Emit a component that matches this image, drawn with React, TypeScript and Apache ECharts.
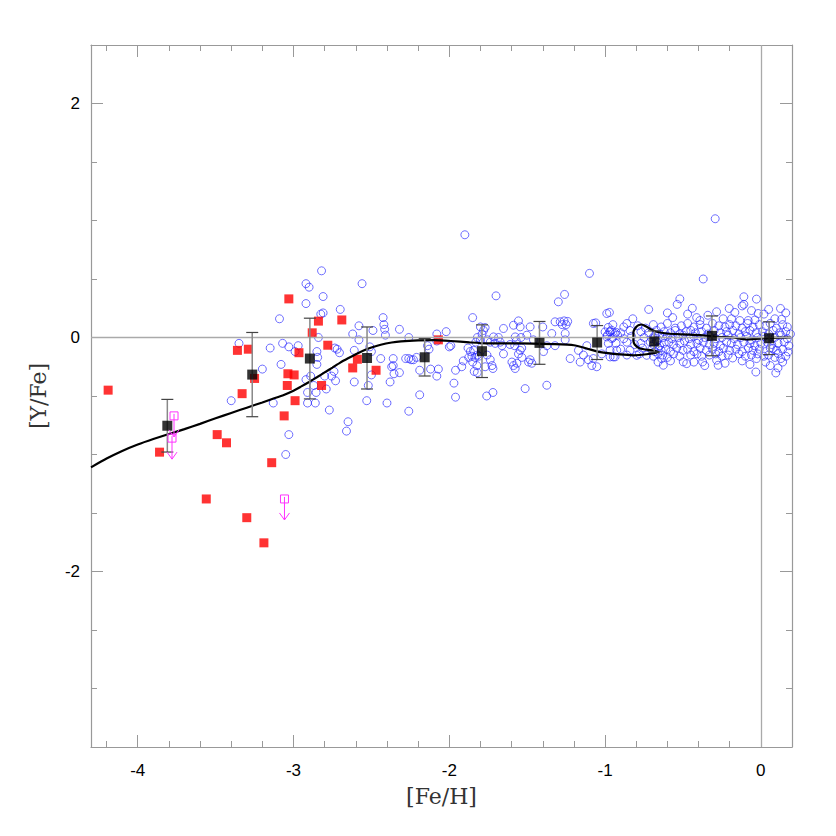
import React, { useEffect, useRef } from 'react';
import * as echarts from 'echarts';

const xMajorTicks = [-4, -3, -2, -1, 0];
const xMinorTicks = [-4.2, -3.8, -3.6, -3.4, -3.2, -2.8, -2.6, -2.4, -2.2, -1.8, -1.6, -1.4, -1.2, -0.8, -0.6, -0.4, -0.2];
const yMajorTicks = [-2, 0, 2];
const yMinorTicks = [-3.0, -2.5, -1.5, -1.0, -0.5, 0.5, 1.0, 1.5];

// mean values with error (x, y, err)
const meanPoints = [
  [-3.81, -0.754, 0.225], [-3.265, -0.317, 0.36], [-2.895, -0.18, 0.345], [-2.528, -0.175, 0.265],
  [-2.158, -0.169, 0.16], [-1.79, -0.117, 0.225], [-1.421, -0.046, 0.183], [-1.051, -0.043, 0.145],
  [-0.684, -0.034, 0.09], [-0.314, 0.014, 0.17], [0.053, -0.006, 0.14],
];

const redStars = [
  [-4.19, -0.45], [-3.86, -0.98], [-3.56, -1.38], [-3.49, -0.83], [-3.43, -0.90], [-3.36, -0.11],
  [-3.33, -0.48], [-3.30, -1.54], [-3.29, -0.10], [-3.25, -0.35], [-3.19, -1.755], [-3.14, -1.07],
  [-3.06, -0.67], [-3.04, -0.41], [-3.036, -0.31], [-3.03, 0.33], [-2.996, -0.32], [-2.99, -0.54],
  [-2.965, -0.13], [-2.88, 0.04], [-2.84, 0.14], [-2.82, -0.41], [-2.78, -0.066], [-2.69, 0.15],
  [-2.62, -0.26], [-2.59, -0.186], [-2.47, -0.28], [-2.07, -0.02],
];

const upperLimits = [[-3.767, -0.67], [-3.78, -0.86], [-3.058, -1.38]];

const blueMetalPoor = [
  [-3.40, -0.54], [-3.35, -0.05], [-3.20, -0.27], [-3.15, -0.09], [-3.13, -0.56], [-3.09, 0.16],
  [-3.08, -0.23], [-3.07, -0.05], [-3.05, -1.00], [-3.03, -0.08], [-3.03, -0.83], [-2.99, -0.12],
  [-2.97, -0.07], [-2.92, 0.29], [-2.92, 0.46], [-2.92, -0.36], [-2.91, -0.47], [-2.91, -0.56],
  [-2.90, 0.43], [-2.89, -0.33], [-2.87, -0.41], [-2.86, -0.56], [-2.855, -0.47], [-2.85, -0.12],
  [-2.85, -0.23], [-2.845, -0.17], [-2.84, 0.00], [-2.825, 0.20], [-2.81, 0.21], [-2.82, 0.57],
  [-2.81, 0.35], [-2.80, -0.33], [-2.79, -0.44], [-2.77, -0.62], [-2.755, -0.33], [-2.74, -0.29],
  [-2.735, -0.09], [-2.73, -0.37], [-2.72, -0.10], [-2.705, -0.13], [-2.70, 0.24], [-2.65, -0.72],
  [-2.66, -0.80], [-2.62, 0.03], [-2.61, -0.11], [-2.61, -0.38], [-2.58, 0.10], [-2.58, -0.02],
  [-2.56, 0.46], [-2.53, -0.54], [-2.52, -0.41], [-2.51, -0.08], [-2.50, -0.12], [-2.50, -0.32],
  [-2.49, 0.06], [-2.44, -0.18], [-2.425, 0.17], [-2.42, 0.11], [-2.415, 0.07], [-2.41, 0.02],
  [-2.40, -0.56], [-2.38, -0.38], [-2.37, -0.25], [-2.36, -0.18], [-2.36, -0.24], [-2.355, -0.31],
  [-2.32, 0.07], [-2.32, -0.30], [-2.28, -0.18], [-2.26, 0.00], [-2.26, -0.18], [-2.26, -0.63],
  [-2.245, -0.19], [-2.23, -0.19], [-2.21, -0.17], [-2.19, -0.28], [-2.19, -0.49], [-2.14, -0.07],
  [-2.13, -0.10], [-2.12, -0.27], [-2.08, 0.03], [-2.08, -0.33], [-2.08, -0.03], [-2.07, -0.27],
  [-2.02, 0.05], [-2.00, -0.08],
];

const blueMid = [
  [-1.99, -0.07], [-1.97, -0.39], [-1.96, -0.51], [-1.96, -0.28], [-1.91, -0.20], [-1.92, -0.25],
  [-1.90, 0.878], [-1.88, -0.09], [-1.865, -0.12], [-1.855, -0.16], [-1.875, -0.17], [-1.85, 0.17],
  [-1.85, -0.21], [-1.84, -0.29], [-1.835, -0.17], [-1.823, -0.24], [-1.83, -0.04], [-1.82, 0.00],
  [-1.82, -0.30], [-1.819, -0.15], [-1.844, -0.11], [-1.80, 0.09], [-1.80, -0.02], [-1.78, 0.06],
  [-1.79, 0.03], [-1.77, 0.085], [-1.81, -0.16], [-1.77, -0.25], [-1.758, -0.15], [-1.755, -0.02],
  [-1.76, -0.50], [-1.737, -0.19], [-1.737, -0.04], [-1.726, -0.24], [-1.72, -0.265], [-1.72, -0.47],
  [-1.716, 0.005], [-1.705, -0.05], [-1.70, 0.356], [-1.684, 0.00], [-1.673, -0.04], [-1.662, -0.07],
  [-1.652, 0.077], [-1.652, -0.14], [-1.61, -0.06], [-1.598, -0.21], [-1.588, 0.105], [-1.588, -0.24],
  [-1.577, -0.265], [-1.577, 0.005], [-1.58, -0.07], [-1.566, -0.22], [-1.57, -0.03], [-1.556, 0.142],
  [-1.556, -0.14], [-1.545, 0.091], [-1.545, -0.11], [-1.54, 0.00], [-1.535, -0.09], [-1.534, -0.17],
  [-1.513, -0.437], [-1.502, 0.02], [-1.491, -0.21], [-1.481, 0.091], [-1.481, -0.19], [-1.47, -0.22],
  [-1.46, -0.02], [-1.40, 0.09], [-1.395, -0.12], [-1.374, -0.07], [-1.374, -0.408], [-1.342, 0.034],
  [-1.321, 0.134], [-1.321, -0.07], [-1.30, 0.305], [-1.288, 0.134], [-1.26, 0.368], [-1.263, 0.142],
  [-1.256, 0.034], [-1.256, -0.02], [-1.24, 0.137], [-1.275, 0.11], [-1.25, 0.11], [-1.224, -0.18],
  [-1.171, -0.11], [-1.16, -0.21], [-1.139, -0.15], [-1.117, -0.07], [-1.107, -0.19], [-1.10, 0.548],
  [-1.085, -0.24], [-1.075, 0.12], [-1.075, -0.18], [-1.06, 0.125], [-1.053, -0.25], [-1.021, -0.14],
  [-1.00, 0.048],
];

const blueSolar = [
  [-0.989, 0.005], [-0.979, -0.051], [-0.968, -0.109], [-0.947, -0.166], [-0.925, -0.109], [-0.957, -0.009],
  [-0.936, 0.034], [-0.968, 0.048], [-0.989, 0.205], [-0.972, 0.214], [-0.98, 0.086], [-0.96, 0.063],
  [-0.985, 0.02], [-0.93, 0.045], [-0.92, 0.02], [-0.968, -0.166], [-0.936, -0.166], [-0.822, 0.16],
  [-0.797, -0.152], [-0.733, -0.152], [-0.72, 0.24], [-0.637, -0.18], [-0.626, -0.237], [-0.566, 0.17],
  [-0.537, 0.283], [-0.52, 0.33], [-0.498, -0.209], [-0.476, -0.223], [-0.412, 0.17], [-0.391, 0.145],
  [-0.374, -0.209], [-0.37, 0.50], [-0.293, 1.015], [-0.284, 0.22], [-0.284, -0.194], [-0.274, -0.237],
  [-0.242, 0.16], [-0.203, 0.248], [-0.188, 0.16], [-0.181, -0.175], [-0.167, 0.214], [-0.135, 0.145],
  [-0.109, 0.348], [-0.109, 0.283], [-0.081, 0.145], [-0.038, 0.15], [-0.028, 0.328], [-0.028, -0.18],
  [-0.032, -0.295], [-0.017, 0.205], [0.079, -0.094], [0.09, 0.16], [0.096, -0.303], [0.111, -0.137],
  [0.126, 0.248], [0.128, -0.18], [0.133, 0.155], [0.175, -0.123],
  [-0.95, 0.11], [-0.88, 0.09], [-0.86, 0.12], [-0.79, 0.10], [-0.74, 0.08], [-0.69, 0.11], [-0.64, 0.09],
  [-0.60, 0.12], [-0.55, 0.08], [-0.51, 0.10], [-0.47, 0.12], [-0.43, 0.09], [-0.39, 0.11], [-0.35, 0.08],
  [-0.31, 0.12], [-0.27, 0.10], [-0.23, 0.09], [-0.20, 0.11], [-0.16, 0.10], [-0.12, 0.08], [-0.085, 0.12],
  [-0.05, 0.09], [-0.01, 0.11], [0.03, 0.10], [0.06, 0.12], [0.10, 0.08], [0.14, 0.11], [0.17, 0.09],
  [-0.97, 0.05], [-0.90, 0.04], [-0.84, 0.06], [-0.77, 0.05], [-0.72, 0.04], [-0.67, 0.06], [-0.65, 0.03],
  [-0.62, 0.05], [-0.58, 0.04], [-0.55, 0.06], [-0.52, 0.03], [-0.48, 0.05], [-0.45, 0.06], [-0.42, 0.04],
  [-0.38, 0.05], [-0.34, 0.03], [-0.30, 0.06], [-0.26, 0.04], [-0.22, 0.05], [-0.18, 0.06], [-0.14, 0.03],
  [-0.10, 0.05], [-0.07, 0.06], [-0.03, 0.04], [0.01, 0.05], [0.05, 0.03], [0.08, 0.06], [0.12, 0.04],
  [0.16, 0.05], [0.19, 0.03],
  [-0.95, 0.00], [-0.88, -0.01], [-0.83, 0.01], [-0.75, 0.00], [-0.70, -0.01], [-0.68, 0.02], [-0.66, -0.02],
  [-0.63, 0.00], [-0.60, 0.01], [-0.57, -0.01], [-0.53, 0.00], [-0.50, 0.02], [-0.46, -0.01], [-0.43, 0.01],
  [-0.40, -0.02], [-0.36, 0.00], [-0.33, 0.01], [-0.29, -0.01], [-0.25, 0.00], [-0.21, 0.02], [-0.17, -0.01],
  [-0.13, 0.00], [-0.09, 0.01], [-0.06, -0.02], [-0.02, 0.00], [0.02, 0.01], [0.05, -0.01], [0.09, 0.00],
  [0.13, 0.02], [0.17, -0.01],
  [-0.93, -0.05], [-0.86, -0.04], [-0.81, -0.06], [-0.77, -0.05], [-0.71, -0.04], [-0.69, -0.06], [-0.67, -0.03],
  [-0.65, -0.07], [-0.62, -0.05], [-0.59, -0.04], [-0.56, -0.06], [-0.52, -0.05], [-0.49, -0.03], [-0.45, -0.06],
  [-0.41, -0.05], [-0.37, -0.04], [-0.33, -0.06], [-0.30, -0.05], [-0.26, -0.07], [-0.22, -0.04], [-0.19, -0.05],
  [-0.15, -0.06], [-0.11, -0.04], [-0.07, -0.05], [-0.04, -0.07], [0.00, -0.05], [0.04, -0.04], [0.07, -0.06],
  [0.11, -0.05], [0.15, -0.04], [0.18, -0.07],
  [-0.90, -0.10], [-0.84, -0.11], [-0.76, -0.09], [-0.70, -0.10], [-0.68, -0.12], [-0.66, -0.09], [-0.64, -0.11],
  [-0.61, -0.10], [-0.58, -0.12], [-0.54, -0.09], [-0.50, -0.11], [-0.47, -0.10], [-0.43, -0.12], [-0.39, -0.09],
  [-0.35, -0.11], [-0.31, -0.10], [-0.27, -0.12], [-0.24, -0.09], [-0.20, -0.11], [-0.16, -0.10], [-0.12, -0.12],
  [-0.08, -0.09], [-0.05, -0.11], [-0.01, -0.10], [0.03, -0.12], [0.06, -0.09], [0.10, -0.11], [0.14, -0.10],
  [-0.86, -0.15], [-0.78, -0.14], [-0.69, -0.16], [-0.66, -0.14], [-0.63, -0.15], [-0.60, -0.17], [-0.56, -0.14],
  [-0.52, -0.16], [-0.45, -0.15], [-0.41, -0.14], [-0.38, -0.16], [-0.33, -0.15], [-0.29, -0.14], [-0.25, -0.16],
  [-0.21, -0.15], [-0.14, -0.14], [-0.10, -0.16], [-0.06, -0.15], [-0.02, -0.14], [0.02, -0.16], [0.05, -0.15],
  [0.09, -0.17], [0.16, -0.16],
  [-0.60, 0.21], [-0.47, 0.20], [-0.34, 0.19], [-0.06, 0.23], [0.02, 0.20], [0.05, 0.24], [0.16, 0.21],
  [-0.44, 0.25], [-0.12, 0.27],
  [-0.66, -0.21], [-0.58, -0.20], [-0.43, -0.21], [-0.36, -0.24], [-0.23, -0.22], [-0.12, -0.20],
  [-0.07, -0.23], [0.03, -0.21], [0.06, -0.24], [0.14, -0.21], [0.11, -0.26],
];

const modelCurve = [
  [-4.3, -1.11], [-4.2, -1.035], [-4.1, -0.97], [-4.0, -0.915], [-3.9, -0.868], [-3.8, -0.825],
  [-3.7, -0.783], [-3.6, -0.738], [-3.5, -0.69], [-3.4, -0.645], [-3.3, -0.6], [-3.2, -0.555],
  [-3.137, -0.525], [-3.07, -0.495], [-3.0, -0.455], [-2.95, -0.418], [-2.9, -0.38], [-2.85, -0.34],
  [-2.8, -0.298], [-2.75, -0.257], [-2.7, -0.215], [-2.65, -0.178], [-2.6, -0.143], [-2.55, -0.112],
  [-2.5, -0.086], [-2.44, -0.062], [-2.37, -0.043], [-2.31, -0.033], [-2.2, -0.025], [-2.1, -0.023],
  [-1.99, -0.03], [-1.87, -0.042], [-1.76, -0.05], [-1.545, -0.05], [-1.33, -0.057], [-1.2, -0.066],
  [-1.117, -0.094], [-1.03, -0.125], [-0.904, -0.145], [-0.818, -0.152], [-0.733, -0.143], [-0.658, -0.123],
  [-0.70, -0.11], [-0.776, -0.094], [-0.81, -0.06], [-0.818, -0.023], [-0.818, 0.048], [-0.8, 0.09],
  [-0.786, 0.105], [-0.765, 0.111], [-0.733, 0.091], [-0.68, 0.054], [-0.605, 0.034], [-0.498, 0.026],
  [-0.39, 0.02], [-0.284, 0.005], [-0.178, 0.0], [-0.092, -0.017], [-0.006, -0.009], [0.079, -0.003],
  [0.19, 0.0],
];

const AXIS_GRAY = '#999';
const LABEL_FONT = 'Liberation Sans';
const NAME_FONT = 'DejaVu Serif';

function makeX(position: string, ticks: number[], len: number, withLabels: boolean, showLine: boolean) {
  return {
    type: 'value', min: -4.3, max: 0.2, position,
    name: withLabels ? '[Fe/H]' : '', nameLocation: 'middle', nameGap: 38,
    nameTextStyle: { fontFamily: NAME_FONT, fontSize: 22, color: '#333' },
    axisLine: { show: showLine, onZero: false, lineStyle: { color: AXIS_GRAY, width: 1.2 } },
    axisTick: { show: true, inside: true, length: len, customValues: ticks, lineStyle: { color: AXIS_GRAY, width: 1 } },
    axisLabel: withLabels
      ? { show: true, customValues: ticks, margin: 15, fontFamily: LABEL_FONT, fontSize: 17, color: '#000' }
      : { show: false },
    splitLine: { show: false },
  };
}

function makeY(position: string, ticks: number[], len: number, withLabels: boolean, showLine: boolean) {
  return {
    type: 'value', min: -3.5, max: 2.5, position,
    name: withLabels ? '[Y/Fe]' : '', nameLocation: 'middle', nameGap: 42,
    nameTextStyle: { fontFamily: NAME_FONT, fontSize: 22, color: '#333' },
    axisLine: { show: showLine, onZero: false, lineStyle: { color: AXIS_GRAY, width: 1.2 } },
    axisTick: { show: true, inside: true, length: len, customValues: ticks, lineStyle: { color: AXIS_GRAY, width: 1 } },
    axisLabel: withLabels
      ? { show: true, customValues: ticks, margin: 11, fontFamily: LABEL_FONT, fontSize: 17, color: '#000' }
      : { show: false },
    splitLine: { show: false },
  };
}

export default function App() {
  const ref = useRef<HTMLDivElement>(null);
  useEffect(() => {
    if (!ref.current) return;
    const chart = echarts.init(ref.current, null, { renderer: 'svg' });
    const blue = [...blueMetalPoor, ...blueMid, ...blueSolar];
    const option: any = {
      animation: false,
      backgroundColor: '#fff',
      grid: { left: 91, top: 45, right: 44, bottom: 89 },
      xAxis: [
        makeX('bottom', xMajorTicks, 12, true, true),
        makeX('bottom', xMinorTicks, 6, false, false),
        makeX('top', xMajorTicks, 12, false, true),
        makeX('top', xMinorTicks, 6, false, false),
      ],
      yAxis: [
        makeY('left', yMajorTicks, 12, true, true),
        makeY('left', yMinorTicks, 6, false, false),
        makeY('right', yMajorTicks, 12, false, true),
        makeY('right', yMinorTicks, 6, false, false),
      ],
      series: [
        {
          type: 'scatter', xAxisIndex: 0, yAxisIndex: 0, data: blue, symbol: 'circle', symbolSize: 8,
          itemStyle: { color: 'rgba(0,0,0,0)', borderColor: '#2a2aff', borderWidth: 0.85 },
          markLine: {
            silent: true, symbol: ['none', 'none'], label: { show: false },
            lineStyle: { color: '#aaa', type: 'solid', width: 1.3 },
            data: [{ yAxis: 0 }, { xAxis: 0 }],
          },
          z: 2,
        },
        {
          type: 'scatter', xAxisIndex: 0, yAxisIndex: 0, data: redStars, symbol: 'rect', symbolSize: 9,
          itemStyle: { color: '#ff0000' }, z: 3,
        },
        {
          type: 'line', xAxisIndex: 0, yAxisIndex: 0, data: modelCurve, showSymbol: false, smooth: 0.2,
          lineStyle: { color: '#000', width: 2.2 }, z: 4,
        },
        {
          type: 'custom', xAxisIndex: 0, yAxisIndex: 0, data: meanPoints, encode: { x: 0, y: 1 }, z: 5,
          renderItem: (params: any, api: any) => {
            const x = api.value(0), y = api.value(1), e = api.value(2);
            const t = api.coord([x, y + e]);
            const b = api.coord([x, y - e]);
            return {
              type: 'group',
              children: [
                { type: 'line', shape: { x1: t[0], y1: t[1], x2: b[0], y2: b[1] }, style: { stroke: '#888', lineWidth: 1.5 } },
                { type: 'line', shape: { x1: t[0] - 6, y1: t[1], x2: t[0] + 6, y2: t[1] }, style: { stroke: '#444', lineWidth: 1.2 } },
                { type: 'line', shape: { x1: b[0] - 6, y1: b[1], x2: b[0] + 6, y2: b[1] }, style: { stroke: '#444', lineWidth: 1.2 } },
              ],
            };
          },
        },
        {
          type: 'scatter', xAxisIndex: 0, yAxisIndex: 0, data: meanPoints.map((p) => [p[0], p[1]]),
          symbol: 'rect', symbolSize: 10, itemStyle: { color: '#000' }, z: 6,
        },
        {
          type: 'custom', xAxisIndex: 0, yAxisIndex: 0, data: upperLimits, encode: { x: 0, y: 1 }, z: 7,
          renderItem: (params: any, api: any) => {
            const p = api.coord([api.value(0), api.value(1)]);
            const c = '#ff33ff';
            return {
              type: 'group',
              children: [
                { type: 'rect', shape: { x: p[0] - 4, y: p[1] - 4, width: 8, height: 8 }, style: { fill: 'none', stroke: c, lineWidth: 1 } },
                { type: 'line', shape: { x1: p[0], y1: p[1] - 2, x2: p[0], y2: p[1] + 21 }, style: { stroke: c, lineWidth: 1 } },
                { type: 'polyline', shape: { points: [[p[0] - 5, p[1] + 14], [p[0], p[1] + 21], [p[0] + 5, p[1] + 14]] }, style: { stroke: c, fill: 'none', lineWidth: 1 } },
              ],
            };
          },
        },
      ],
    };
    chart.setOption(option);
    return () => chart.dispose();
  }, []);
  return <div ref={ref} style={{ position: 'absolute', left: 0, top: 0, width: 836, height: 836 }} />;
}
